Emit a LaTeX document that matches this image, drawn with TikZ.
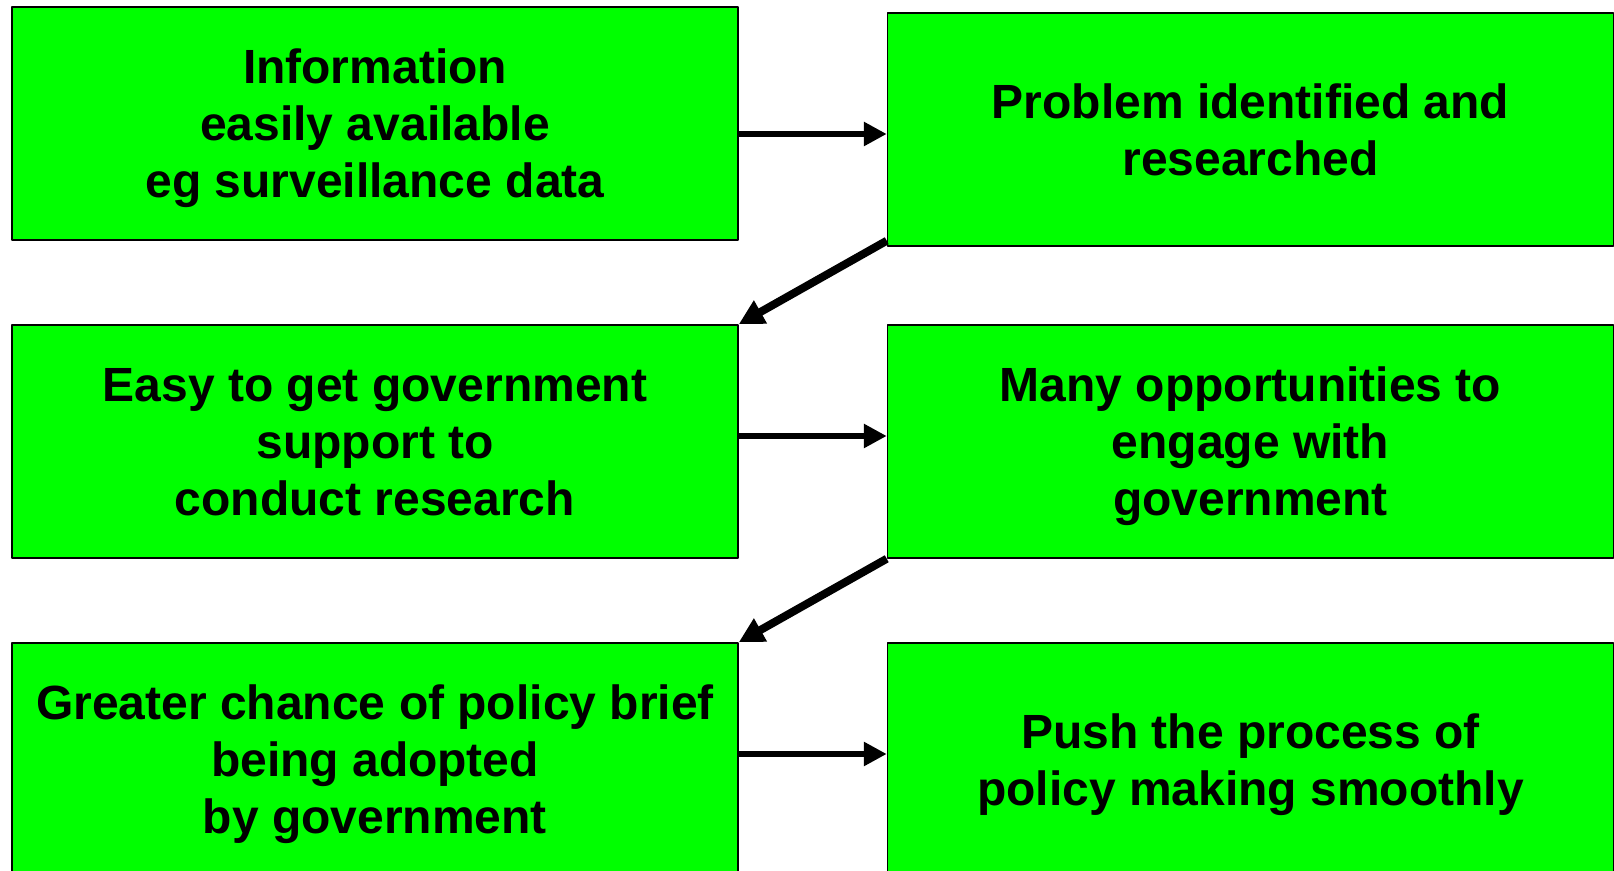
\documentclass[tikz,border=0pt]{standalone}
\usepackage{fontspec}
\setmainfont{Liberation Sans}
\usetikzlibrary{arrows.meta}
\definecolor{boxgreen}{RGB}{0,255,0}
\begin{document}
\begin{tikzpicture}[x=0.5pt, y=-0.5pt, line join=round, >={Triangle[length=11.5pt,width=11.5pt]},
 box/.style={draw, line width=0.75pt, fill=boxgreen, minimum width=363pt, minimum height=116.5pt, inner sep=0pt, text depth=0pt, align=center, font=\fontsize{24}{28.5}\selectfont\bfseries},
 link/.style={->, line width=3.4pt},
 slant/.style={-{Triangle[length=12.5pt,width=12.5pt]}, line width=4pt}]
 \useasboundingbox (0,0) rectangle (1614,871);
 \node[box] (info) at (375,123.5) {Information\\easily available\\eg surveillance data};
 \node[box] (problem) at (1250.5,129.5) {Problem identified and\\researched};
 \node[box] (support) at (375,441.5) {Easy to get government\\support to\\conduct research};
 \node[box] (engage) at (1250.5,441.5) {Many opportunities to\\engage with\\government};
 \node[box] (adopted) at (375,759.5) {Greater chance of policy brief\\being adopted\\by government};
 \node[box] (push) at (1250.5,759.5) {Push the process of\\policy making smoothly};
 \draw[link] ([yshift=-5.25pt]info.east) -- ([yshift=-5.25pt]info.east -| problem.west);
 \draw[slant] ([yshift=3pt]problem.south west) -- (support.north east);
 \draw[link] ([yshift=2.75pt]support.east) -- ([yshift=2.75pt]engage.west);
 \draw[slant] (engage.south west) -- (adopted.north east);
 \draw[link] ([yshift=2.75pt]adopted.east) -- ([yshift=2.75pt]push.west);
\end{tikzpicture}
\end{document}
